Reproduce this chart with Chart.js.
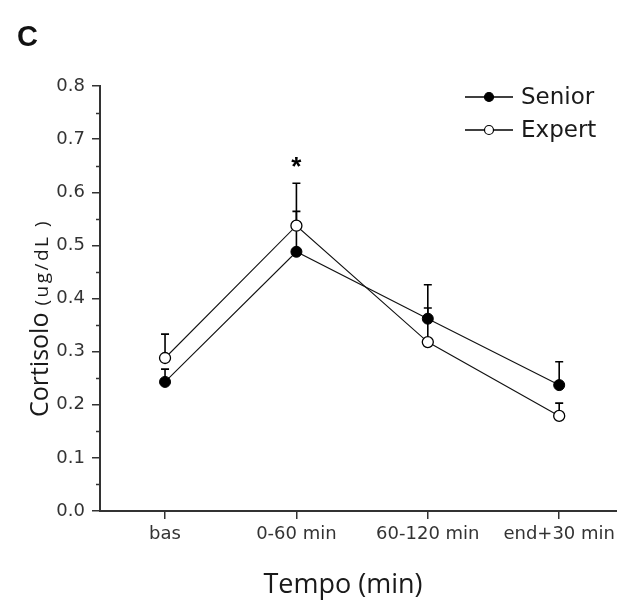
<!DOCTYPE html>
<html>
<head>
<meta charset="utf-8">
<script src="https://cdn.jsdelivr.net/npm/chart.js@4/dist/chart.umd.min.js"></script>
<style>
  html, body { margin: 0; padding: 0; background: #fff; }
  #wrap { width: 617px; height: 600px; }
</style>
</head>
<body>
<div id="wrap"><canvas id="CortisolChart"></canvas></div>
<script>
// dati
var categories = ['bas', '0-60 min', '60-120 min', 'end+30 min'];
var seniorMean = [0.243, 0.488, 0.362, 0.237];
var seniorErr  = [0.024, 0.076, 0.064, 0.044];
var expertMean = [0.288, 0.537, 0.318, 0.179];
var expertErr  = [0.045, 0.080, 0.064, 0.024];
var sigMarks   = ['', '*', '', ''];
var yTicks     = [0, 0.1, 0.2, 0.3, 0.4, 0.5, 0.6, 0.7, 0.8];

var INK = '#333333';
var TICKFONT = 'DejaVu Sans';

function toPoints(arr) {
  return arr.map(function (v, i) { return { x: i, y: v }; });
}

// barre d'errore (solo verso l'alto), tacche minori, asterisco, titoli, legenda
var extras = {
  id: 'extras',
  beforeDatasetsDraw: function (chart) {
    var c = chart.ctx, xs = chart.scales.x, ys = chart.scales.y;
    c.save();
    c.strokeStyle = '#000';
    c.lineWidth = 1.6;
    [[seniorMean, seniorErr], [expertMean, expertErr]].forEach(function (s) {
      s[0].forEach(function (m, i) {
        var x = xs.getPixelForValue(i);
        var y0 = ys.getPixelForValue(m);
        var y1 = ys.getPixelForValue(m + s[1][i]);
        c.beginPath();
        c.moveTo(x, y0); c.lineTo(x, y1);
        c.moveTo(x - 4, y1); c.lineTo(x + 4, y1);
        c.stroke();
      });
    });
    c.restore();
  },
  afterDraw: function (chart) {
    var c = chart.ctx, xs = chart.scales.x, ys = chart.scales.y;
    var area = chart.chartArea;
    c.save();
    // tacche minori asse y
    c.strokeStyle = INK;
    c.lineWidth = 1.5;
    for (var k = 0; k < yTicks.length - 1; k++) {
      var yy = Math.round(ys.getPixelForValue((yTicks[k] + yTicks[k + 1]) / 2)) + 0.5;
      c.beginPath();
      c.moveTo(area.left - 4, yy); c.lineTo(area.left, yy);
      c.stroke();
    }
    // asterischi
    c.fillStyle = '#000';
    c.font = 'bold 26px "Liberation Sans"';
    c.textAlign = 'center';
    c.textBaseline = 'alphabetic';
    sigMarks.forEach(function (s, i) {
      if (!s) return;
      var top = Math.max(seniorMean[i] + seniorErr[i], expertMean[i] + expertErr[i]);
      c.fillText(s, xs.getPixelForValue(i), ys.getPixelForValue(top) - 8);
    });
    // lettera pannello
    c.font = 'bold 29px "Liberation Sans"';
    c.textAlign = 'left';
    c.fillStyle = '#111';
    c.fillText('C', 17, 46);
    // titolo asse x
    c.font = '27px "Open Sans"';
    c.textAlign = 'center';
    c.fillStyle = '#1a1a1a';
    c.fillText('Tempo (min)', 343, 593);
    // titolo asse y (due dimensioni)
    c.translate(48, 318);
    c.rotate(-Math.PI / 2);
    var big = 'Cortisolo', small = '(ug/dL )';
    c.font = '25px "Open Sans"';
    var wBig = c.measureText(big).width;
    c.font = '19px "Open Sans"';
    c.letterSpacing = '2.5px';
    var wSmall = c.measureText(small).width;
    var gap = 7;
    var start = -(wBig + gap + wSmall) / 2;
    c.textAlign = 'left';
    c.letterSpacing = '0px';
    c.font = '25px "Open Sans"';
    c.fillText(big, start, 0);
    c.font = '19px "Open Sans"';
    c.letterSpacing = '2.5px';
    c.fillText(small, start + wBig + gap, 0);
    c.restore();

    // legenda
    c.save();
    var items = [
      { label: chart.data.datasets[0].label, ds: chart.data.datasets[0], y: 97 },
      { label: chart.data.datasets[1].label, ds: chart.data.datasets[1], y: 130 }
    ];
    items.forEach(function (it) {
      c.strokeStyle = '#000';
      c.lineWidth = 1.3;
      c.beginPath();
      c.moveTo(465, it.y); c.lineTo(513, it.y);
      c.stroke();
      c.beginPath();
      c.arc(489, it.y, 4.5, 0, Math.PI * 2);
      c.fillStyle = it.ds.pointBackgroundColor;
      c.fill();
      c.lineWidth = 1.2;
      c.stroke();
      c.fillStyle = '#1a1a1a';
      c.font = '23px "' + TICKFONT + '"';
      c.textAlign = 'left';
      c.textBaseline = 'middle';
      c.fillText(it.label, 521, it.y + 1);
    });
    c.restore();
  }
};

var ctx = document.getElementById('CortisolChart').getContext('2d');
var myChart = new Chart(ctx, {
  type: 'line',
  data: {
    datasets: [
      {
        label: 'Senior',
        data: toPoints(seniorMean),
        borderColor: '#111',
        borderWidth: 1.1,
        pointRadius: 5.5,
        pointBackgroundColor: '#000',
        pointBorderColor: '#000',
        pointBorderWidth: 1,
        tension: 0
      },
      {
        label: 'Expert',
        data: toPoints(expertMean),
        borderColor: '#111',
        borderWidth: 1.1,
        pointRadius: 5.5,
        pointBackgroundColor: '#fff',
        pointBorderColor: '#000',
        pointBorderWidth: 1.3,
        tension: 0
      }
    ]
  },
  options: {
    responsive: true,
    maintainAspectRatio: false,
    animation: false,
    layout: { autoPadding: false, padding: { top: 86, left: 0, right: 0, bottom: 0 } },
    plugins: {
      legend: { display: false },
      tooltip: { enabled: false }
    },
    scales: {
      x: {
        type: 'linear',
        min: -0.495,
        max: 3.44,
        afterFit: function (s) { s.height = 89; s.paddingLeft = 0; s.paddingRight = 0; },
        afterBuildTicks: function (s) {
          s.ticks = categories.map(function (c, i) { return { value: i }; });
        },
        ticks: {
          autoSkip: false,
          maxRotation: 0,
          padding: 5,
          color: INK,
          font: { family: TICKFONT, size: 18 },
          callback: function (v) { return categories[v]; }
        },
        grid: { display: true, drawOnChartArea: false, tickLength: 8, color: INK, lineWidth: 1.5 },
        border: { display: true, color: INK, width: 2 }
      },
      y: {
        min: 0,
        max: 0.8,
        afterFit: function (s) { s.width = 100; },
        afterBuildTicks: function (s) {
          s.ticks = yTicks.map(function (v) { return { value: v }; });
        },
        ticks: {
          padding: 7,
          color: INK,
          font: { family: TICKFONT, size: 18 },
          callback: function (v) { return Number(v).toFixed(1); }
        },
        grid: { display: true, drawOnChartArea: false, tickLength: 8, color: INK, lineWidth: 1.5 },
        border: { display: true, color: INK, width: 2 }
      }
    }
  },
  plugins: [extras]
});
</script>
</body>
</html>
